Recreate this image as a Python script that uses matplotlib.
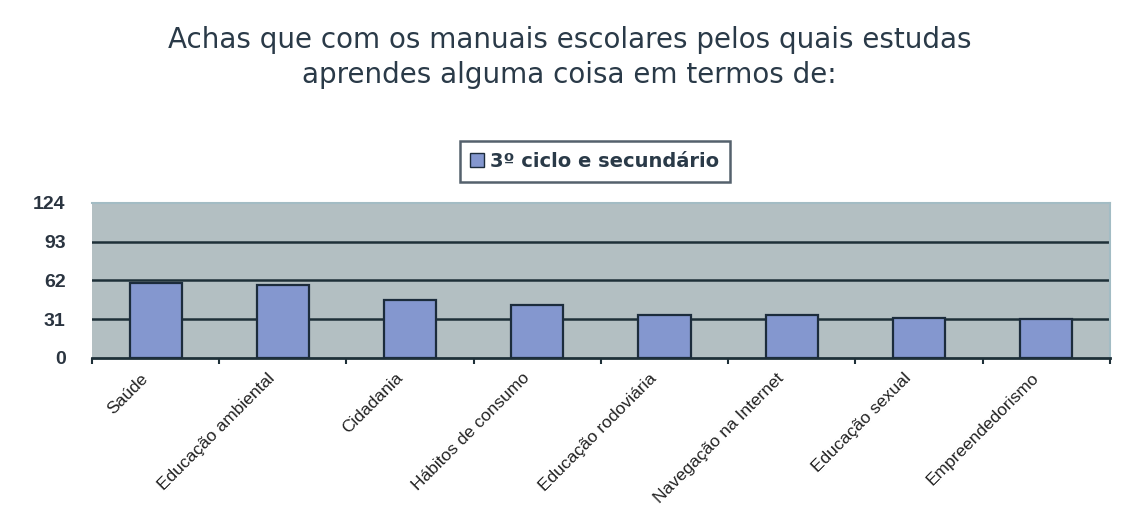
import matplotlib
matplotlib.use("Agg")
import matplotlib.pyplot as plt
from matplotlib.patches import Patch

categorias = ["Saúde", "Educação ambiental", "Cidadania", "Hábitos de consumo",
              "Educação rodoviária", "Navegação na Internet", "Educação sexual",
              "Empreendedorismo"]
valores = [60, 58, 46, 42, 34, 34, 32, 31]
yticks = [0, 31, 62, 93, 124]
serie = "3º ciclo e secundário"
titulo = "Achas que com os manuais escolares pelos quais estudas\naprendes alguma coisa em termos de:"

fig = plt.figure(figsize=(11.26, 5.09), dpi=100)
ax = fig.add_axes([0.0817, 0.2967, 0.904, 0.305])
ax.set_facecolor("#b3bfc2")

x = list(range(len(categorias)))
ax.bar(x, valores, width=0.41, color="#8497cf", edgecolor="#1c2c3c", linewidth=1.6, zorder=3)

ax.set_xlim(-0.5, len(categorias) - 0.5)
ax.set_ylim(0, 124)
ax.set_yticks(yticks)
ax.set_yticklabels([str(v) for v in yticks], fontsize=14, fontweight="bold",
                   color="#2a3440", family="Liberation Sans")
for v in yticks[1:-1]:
    ax.axhline(v, color="#1e3038", linewidth=1.8, zorder=2)

# ticks at category boundaries
ax.set_xticks([i - 0.5 for i in range(len(categorias) + 1)], minor=True)
ax.set_xticks(x)
ax.set_xticklabels([])
ax.tick_params(axis="x", which="major", length=0)
ax.tick_params(axis="x", which="minor", length=4, width=1.5, color="#1e3038", direction="out")
ax.tick_params(axis="y", length=0, pad=19)

for i, c in enumerate(categorias):
    ax.text(i - 0.12, -10, c, rotation=45, ha="right", va="top", rotation_mode="anchor",
            fontsize=12.5, color="#222222", family="Liberation Sans")

for s in ["top", "right"]:
    ax.spines[s].set_color("#a3bcc4")
    ax.spines[s].set_linewidth(1.5)
ax.spines["left"].set_visible(False)
ax.spines["bottom"].set_color("#1e3038")
ax.spines["bottom"].set_linewidth(2)

fig.text(0.506, 0.948, titulo, ha="center", va="top", fontsize=20, color="#2a3a48",
         family="DejaVu Sans", linespacing=1.3)

leg = fig.legend(handles=[Patch(facecolor="#8497cf", edgecolor="#1c2c3c", label=serie)],
                 loc="center", bbox_to_anchor=(0.528, 0.683), frameon=True, fancybox=False,
                 prop={"family": "DejaVu Sans", "weight": "bold", "size": 14},
                 handlelength=0.7, handleheight=0.7, handletextpad=0.3, borderpad=0.55)
leg.get_frame().set_edgecolor("#2a3a48")
leg.get_frame().set_linewidth(1.8)
for t in leg.get_texts():
    t.set_color("#2a3a48")

fig.savefig("out.png", dpi=100)
